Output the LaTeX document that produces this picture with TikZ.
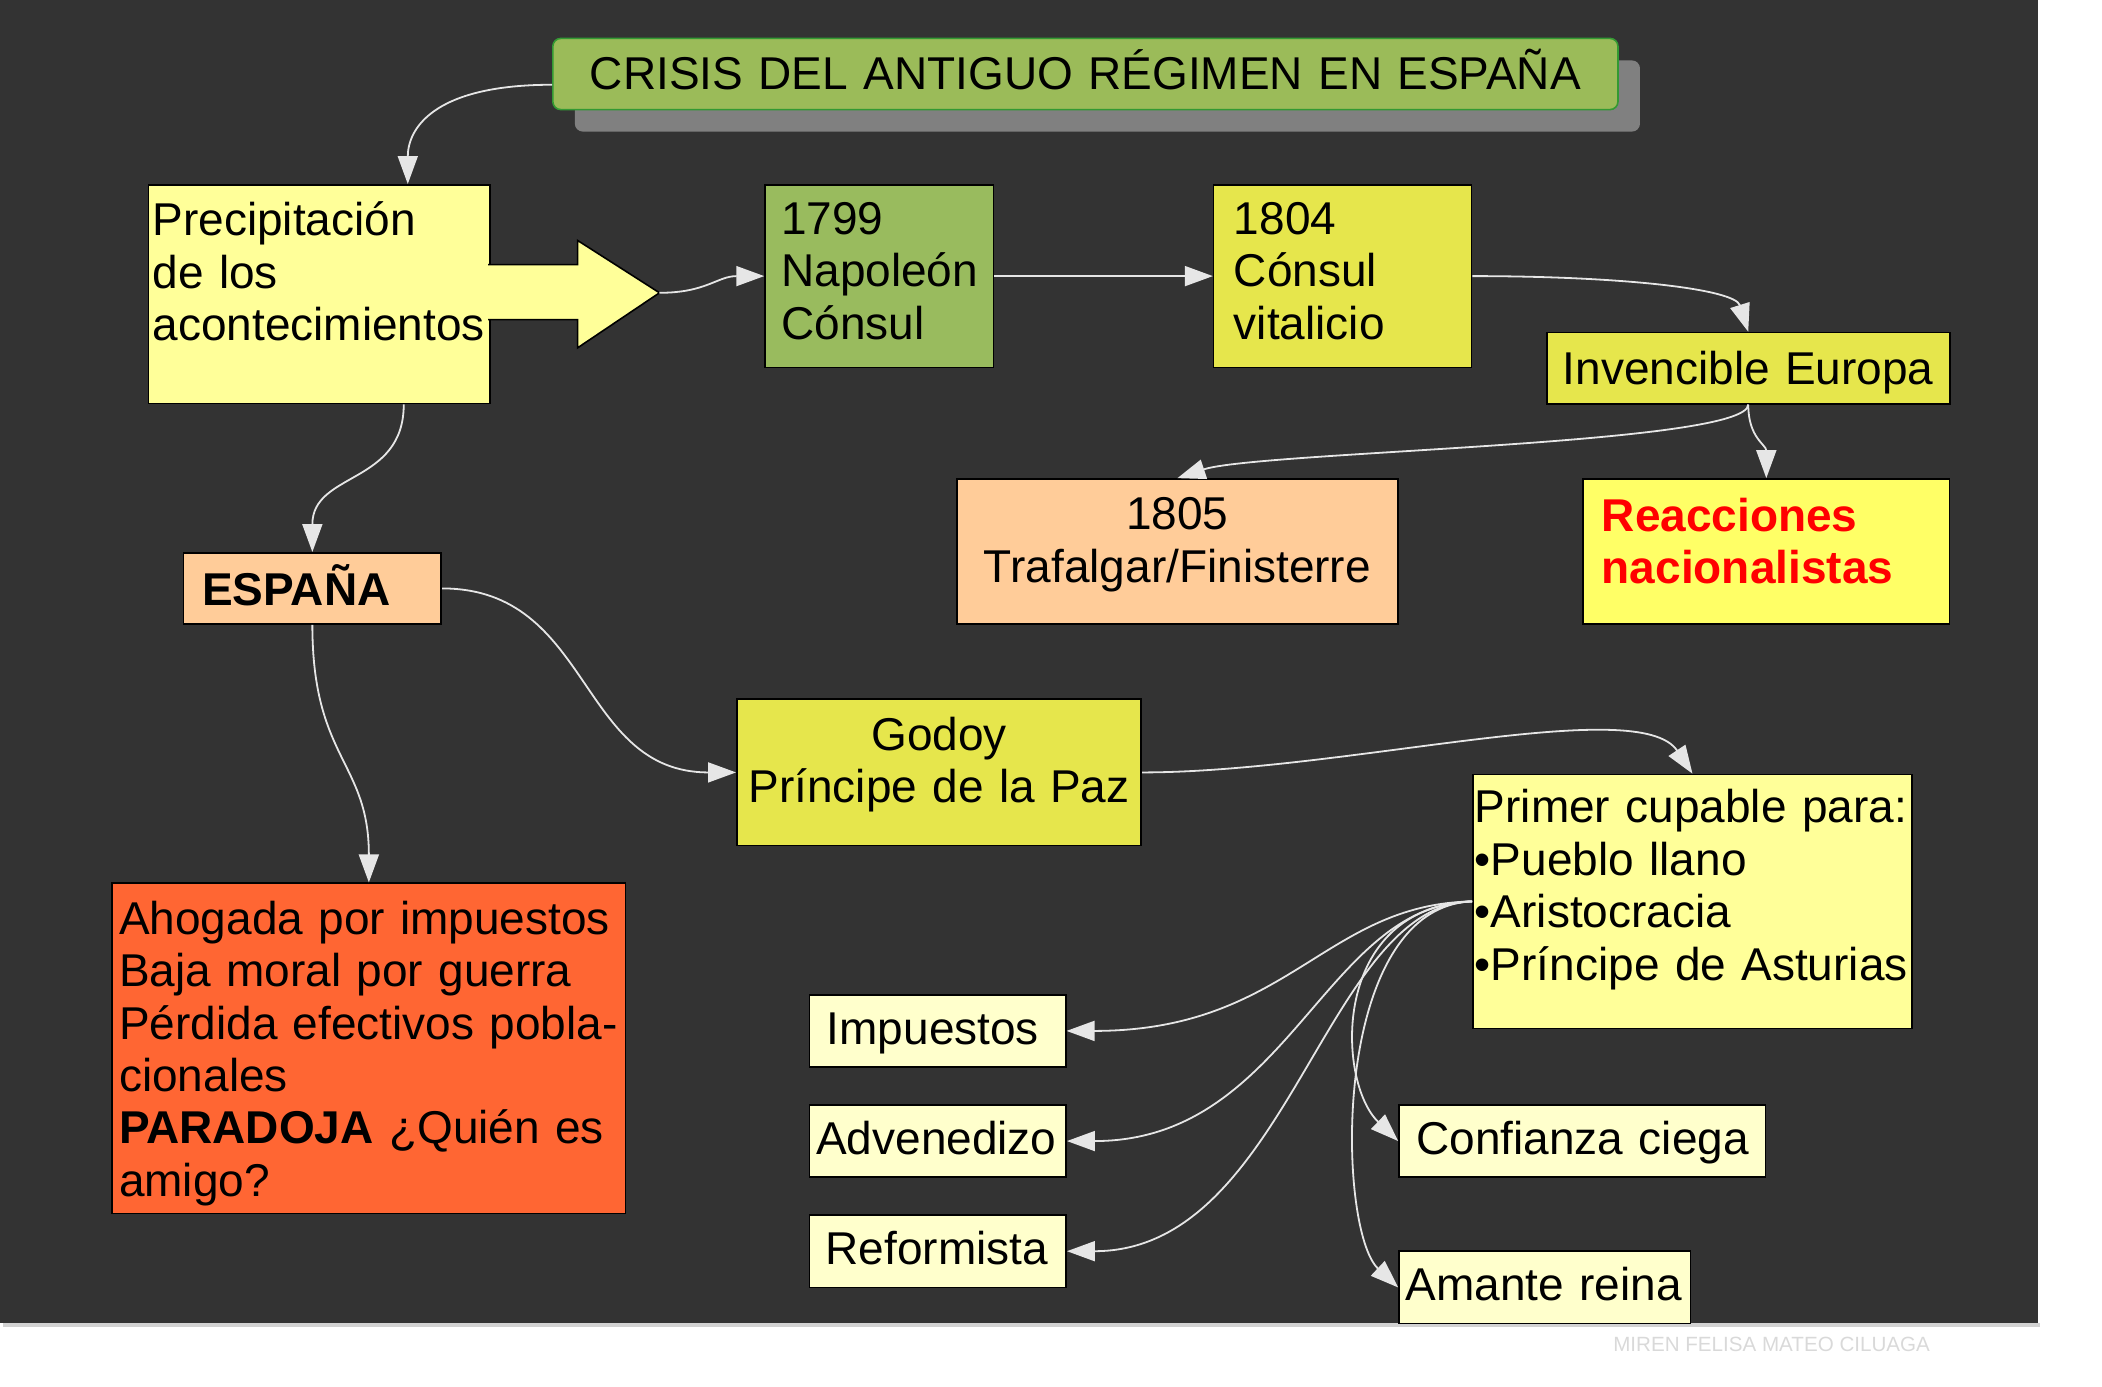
\documentclass[tikz,border=0pt]{standalone}
\usepackage{fontspec}
\setmainfont{Liberation Sans}
\usetikzlibrary{arrows.meta,calc,shadows}
\definecolor{bgdark}{HTML}{333333}
\definecolor{titlegreen}{HTML}{9BBB59}
\definecolor{titleborder}{HTML}{339933}
\definecolor{shadowgray}{HTML}{808080}
\definecolor{napgreen}{HTML}{99BB5E}
\definecolor{olive}{HTML}{E6E64C}
\definecolor{lightyellow}{HTML}{FFFF99}
\definecolor{brightyellow}{HTML}{FFFF66}
\definecolor{peach}{HTML}{FFCC99}
\definecolor{orangered}{HTML}{FF6633}
\definecolor{paleyellow}{HTML}{FFFFCC}
\definecolor{linkgray}{HTML}{E6E6E6}
\definecolor{markgray}{HTML}{D9D9D9}
\hyphenpenalty=10000
\exhyphenpenalty=10000
\begin{document}
\begin{tikzpicture}[x=0.6716pt,y=-0.6716pt,
  every node/.style={font=\fontsize{23}{26.2}\selectfont},
  box/.style={draw=black,line width=0.8pt,anchor=north west,inner ysep=0pt,align=left},
  small/.style={box,fill=paleyellow,text height=24.8pt,text depth=11.4pt},
  link/.style={draw=linkgray,line width=0.9pt,-{Triangle[length=14pt,width=10pt]}}]

  \useasboundingbox (0,0) rectangle (1565,1032);
  \fill[bgdark] (0,0) rectangle (1517,985);
  \fill[gray!35] (2,985) rectangle (1519,988);

  \node[box,draw=titleborder,fill=titlegreen,rounded corners=4pt,align=center,inner xsep=1pt,
    text width=530.6pt,text height=25.5pt,text depth=10.1pt,
    drop shadow={shadow xshift=11pt,shadow yshift=-11pt,fill=shadowgray,opacity=1}]
    (title) at (411,28) {CRISIS DEL ANTIGUO RÉGIMEN EN ESPAÑA};

  \node[box,fill=lightyellow,inner xsep=2pt,text width=166.6pt,text height=25.5pt,text depth=83.9pt]
    (prec) at (110,137) {Precipitación\\de~los\\acontecimientos};
  \fill[lightyellow] (363.4,197) -- (430,197) -- (430,179) -- (491,218) -- (430,259) -- (430,238) -- (363.4,238) -- cycle;
  \draw[line width=0.8pt] (363.4,197) -- (430,197) -- (430,179) -- (491,218) -- (430,259) -- (430,238) -- (363.4,238);
  \coordinate (tip) at (491,218);

  \node[box,fill=napgreen,inner xsep=8.1pt,text width=98.1pt,text height=24.8pt,text depth=66.5pt]
    (n1799) at (569,137) {1799\\Napoleón\\Cónsul};
  \node[box,fill=olive,inner xsep=10.1pt,text width=108.8pt,text height=24.8pt,text depth=66.5pt]
    (n1804) at (903,137) {1804\\Cónsul\\vitalicio};
  \node[box,fill=olive,align=center,inner xsep=1pt,text width=199.5pt,text height=26.2pt,text depth=9.4pt]
    (europa) at (1151,247) {Invencible Europa};
  \node[box,fill=peach,align=center,inner xsep=1pt,text width=218.3pt,text height=25.5pt,text depth=47pt]
    (n1805) at (712,356) {1805\\Trafalgar/Finisterre};
  \node[box,fill=brightyellow,text=red,inner xsep=9.4pt,text width=164.5pt,text height=26.2pt,text depth=46.3pt]
    (reac) at (1178,356) {\bfseries Reacciones\\nacionalistas};
  \node[box,fill=peach,inner xsep=9.4pt,text width=110.1pt,text height=26.2pt,text depth=9.4pt]
    (espana) at (136,411) {\bfseries ESPAÑA};
  \node[box,fill=olive,align=center,inner xsep=1pt,text width=200.2pt,text height=25.5pt,text depth=47.7pt]
    (godoy) at (548,520) {Godoy\\Príncipe de la Paz};
  \node[box,fill=lightyellow,inner xsep=1pt,text width=217.6pt,text height=24.2pt,text depth=102.8pt]
    (primer) at (1096,576) {Primer~cupable~para:\\•Pueblo~llano\\•Aristocracia\\•Príncipe~de~Asturias};
  \node[box,fill=orangered,inner xsep=3.4pt,text width=249.8pt,text height=25.5pt,text depth=139.7pt]
    (ahogada) at (83,657) {Ahogada~por~impuestos\\Baja~moral~por~guerra\\Pérdida~efectivos~pobla-\\cionales\\\textbf{PARADOJA}~¿Quién~es\\amigo?};

  \node[small,inner xsep=8.7pt,text width=110.8pt] (impuestos) at (602,740) {Impuestos};
  \node[small,inner xsep=3.4pt,text width=121.6pt] (advenedizo) at (602,822) {Advenedizo};
  \node[small,inner xsep=8.1pt,text width=112.2pt] (reformista) at (602,904) {Reformista};
  \node[small,inner xsep=8.7pt,text width=165.9pt] (confianza) at (1041,822) {Confianza~ciega};
  \node[small,inner xsep=3.4pt,text width=139pt] (amante) at (1041,931) {Amante~reina};

  \draw[link] ($(title.west)+(0,8)$) .. controls +(-90,0) and +(0,-40) .. ($(prec.north)+(66,0)$);
  \draw[link] (tip) .. controls +(35,0) and +(-35,0) .. (n1799.west);
  \draw[link] (n1799.east) -- (n1804.west);
  \draw[link] (n1804.east) .. controls +(110,0) and +(-10,-32) .. (europa.north);
  \draw[link] (europa.south) .. controls +(0,30) and +(60,-20) .. (n1805.north);
  \draw[link] (europa.south) .. controls +(0,25) and +(0,-25) .. (reac.north);
  \draw[link] ($(prec.south)+(63,0)$) .. controls +(0,60) and +(0,-60) .. (espana.north);
  \draw[link] (espana.south) .. controls +(0,100) and +(0,-90) .. (ahogada.north);
  \draw[link] (espana.east) .. controls +(112,0) and +(-118,0) .. (godoy.west);
  \draw[link] (godoy.east) .. controls +(151,0) and +(-40,-60) .. (primer.north);
  \foreach \dest in {impuestos,advenedizo,reformista}{
    \draw[link] (primer.west) .. controls +(-110,2) and +(165,0) .. (\dest.east);
  }
  \draw[link] (primer.west) .. controls +(-106,4) and +(-46,-44) .. (confianza.west);
  \draw[link] (primer.west) .. controls +(-106,4) and +(-46,-43) .. (amante.west);

  \node[font=\fontsize{10.3}{12}\selectfont,text=markgray] (mark) at (1319,1001) {MIREN FELISA MATEO CILUAGA};
\end{tikzpicture}
\end{document}
